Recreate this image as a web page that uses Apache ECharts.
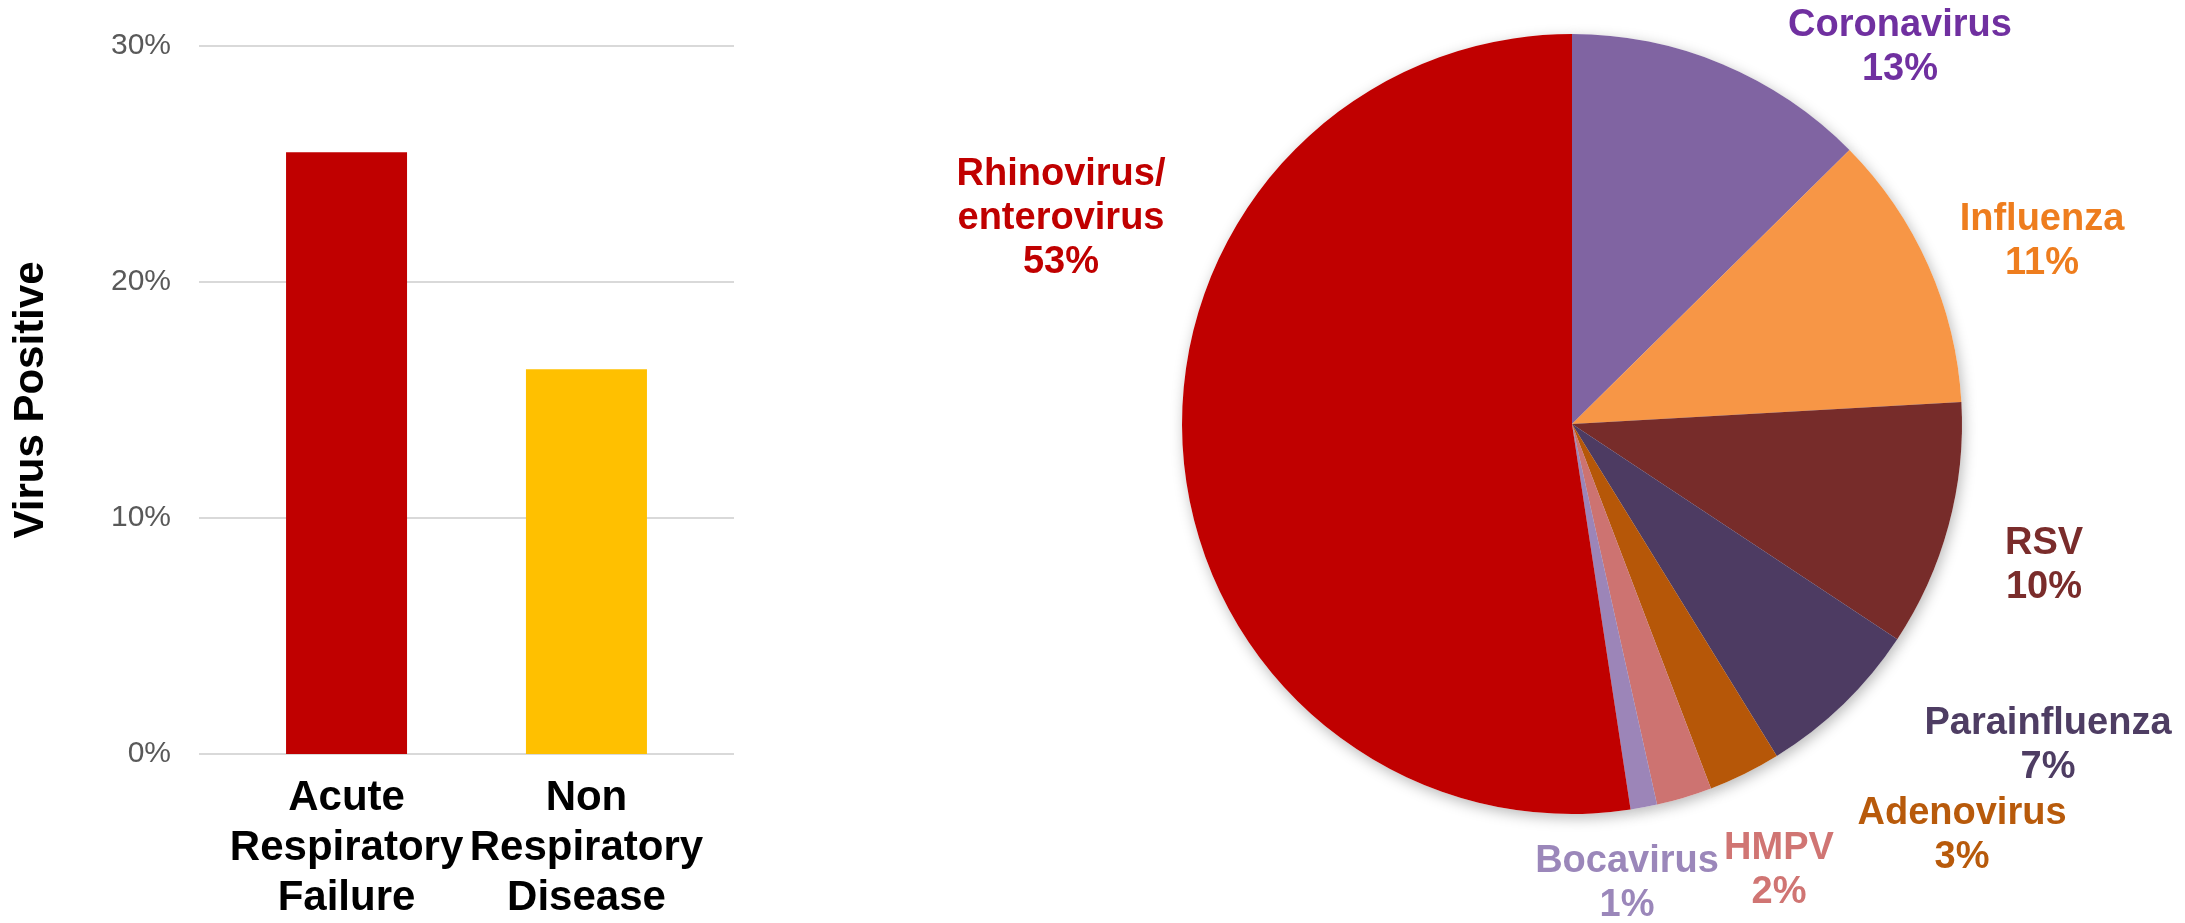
<!DOCTYPE html>
<html>
<head>
<meta charset="utf-8">
<script src="https://cdn.jsdelivr.net/npm/echarts@6/dist/echarts.min.js"></script>
<style>
  html, body { margin: 0; padding: 0; background: #fff; }
  #chart { width: 2185px; height: 923px; }
</style>
</head>
<body>
<div id="chart"></div>
<script>
// left: share of virus positive patients per group
const categories = ["Acute\nRespiratory\nFailure", "Non\nRespiratory\nDisease"];
const barValues = [25.5, 16.3];
const barColors = ["#C00000", "#FFC000"];

// right: which virus was found
const virusNames = ["Coronavirus", "Influenza", "RSV", "Parainfluenza", "Adenovirus", "HMPV", "Bocavirus", "Rhinovirus/\nenterovirus"];
const virusShares = [12.6, 11.5, 10.2, 6.9, 3.0, 2.3, 1.1, 52.4];
const shareLabels = ["13%", "11%", "10%", "7%", "3%", "2%", "1%", "53%"];
const sliceColors = ["#8064A2", "#F79646", "#772C2A", "#4D3B62", "#B65708", "#CD7371", "#9C85B8", "#C00000"];
const labelColors = ["#7030A0", "#EE7D1E", "#7A2C2B", "#4E3D63", "#B85A0B", "#D07573", "#9B87BA", "#C00000"];

const FONT = "'Liberation Sans', Arial, sans-serif";
const pieCenter = [1572, 424];
const pieRadius = 390;
// where each label block sits, relative to the pie centre (px)
const labelOffsets = [
  [328, -376], [470, -182], [472, 142], [476, 322],
  [390, 412], [207, 447], [55, 460], [-511, -205]
];

const chart = echarts.init(document.getElementById("chart"));

const option = {
  animation: false,
  backgroundColor: "#fff",
  grid: { left: 199, right: 1451, top: 46, bottom: 162 },
  xAxis: {
    type: "value",
    min: -0.615,
    max: 1.615,
    axisLine: { show: false },
    axisTick: { show: false },
    splitLine: { show: false },
    axisLabel: {
      customValues: [0, 1],
      formatter: (v) => categories[Math.round(v)],
      fontFamily: FONT,
      fontSize: 42,
      fontWeight: "bold",
      color: "#000",
      lineHeight: 50,
      margin: 19,
    },
  },
  yAxis: {
    type: "value",
    min: 0,
    max: 30,
    interval: 10,
    name: "Virus Positive",
    nameLocation: "middle",
    nameRotate: 90,
    nameGap: 147,
    nameTextStyle: { fontFamily: FONT, fontSize: 42, fontWeight: "bold", color: "#000" },
    axisLine: { show: false },
    axisTick: { show: false },
    axisLabel: { formatter: "{value}%", fontFamily: FONT, fontSize: 30, color: "#595959", margin: 28 },
    splitLine: { lineStyle: { color: "#D9D9D9", width: 2 } },
  },
  series: [
    {
      type: "bar",
      barWidth: 121,
      data: categories.map((c, i) => ({ value: [i, barValues[i]], itemStyle: { color: barColors[i] } })),
    },
    {
      // soft drop shadow behind the pie
      type: "pie",
      silent: true,
      z: 1,
      center: pieCenter,
      radius: pieRadius,
      label: { show: false },
      labelLine: { show: false },
      itemStyle: { color: "#fff", shadowBlur: 14, shadowColor: "rgba(0,0,0,0.28)", shadowOffsetX: 2, shadowOffsetY: 4 },
      data: virusShares,
    },
    {
      type: "pie",
      z: 2,
      center: pieCenter,
      radius: pieRadius,
      startAngle: 90,
      clockwise: true,
      avoidLabelOverlap: false,
      labelLine: { show: false },
      label: {
        show: true,
        position: "outside",
        fontFamily: FONT,
        fontSize: 38,
        fontWeight: "bold",
        lineHeight: 44,
        align: "center",
        formatter: (p) => p.name + "\n" + shareLabels[p.dataIndex],
      },
      labelLayout: (p) => ({
        x: pieCenter[0] + labelOffsets[p.dataIndex][0],
        y: pieCenter[1] + labelOffsets[p.dataIndex][1],
        align: "center",
        verticalAlign: "middle",
      }),
      data: virusNames.map((n, i) => ({
        name: n,
        value: virusShares[i],
        itemStyle: { color: sliceColors[i] },
        label: { color: labelColors[i] },
      })),
    },
  ],
};

chart.setOption(option);
</script>
</body>
</html>
